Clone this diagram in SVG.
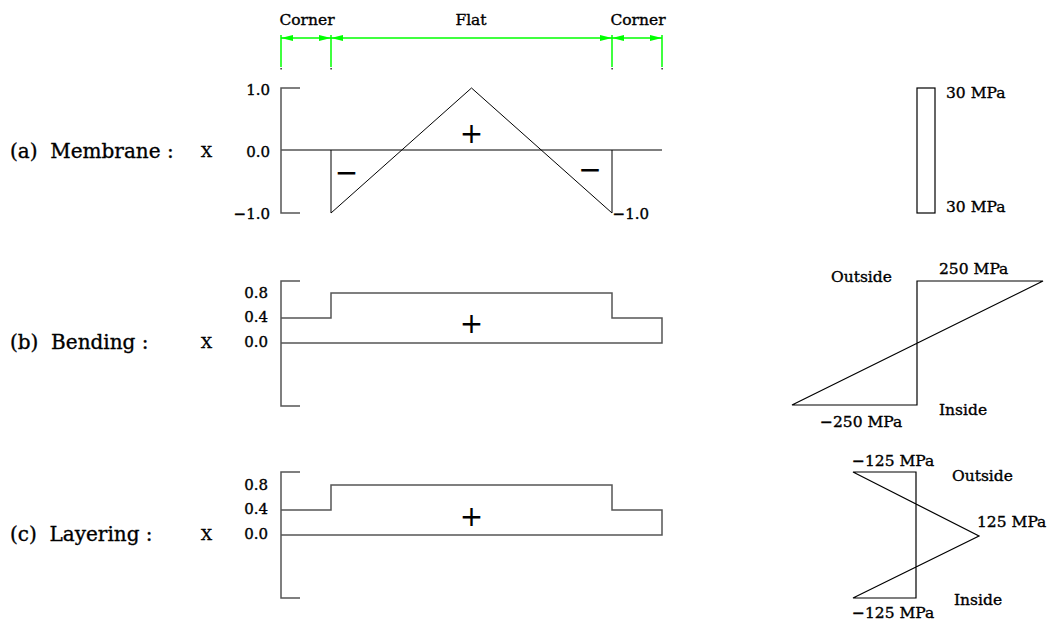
<svg xmlns="http://www.w3.org/2000/svg" width="1048" height="631" viewBox="0 0 1048 631">
<style>
text{font-family:"DejaVu Serif","Liberation Serif",serif;fill:#000;stroke:#000;stroke-width:0.35}
.lab{font-size:20px;white-space:pre}
.tk{font-size:15px;text-anchor:end}
.mpa{font-size:15.5px}
.dim{font-size:15.5px;text-anchor:middle}
.sgn{font-family:"DejaVu Sans",sans-serif;font-size:28px;text-anchor:middle;stroke-width:0}
.ax{fill:none;stroke:#555;stroke-width:1.5}
.th{fill:none;stroke:#000;stroke-width:1}
.rs{fill:none;stroke:#000;stroke-width:1.2}
.g{stroke:#00ff00;stroke-width:1.5;fill:none}
</style>
<defs>
<marker id="ah" viewBox="0 0 12 6" refX="12" refY="3" markerWidth="12" markerHeight="6" markerUnits="userSpaceOnUse" orient="auto-start-reverse">
<path d="M0,0 L12,3 L0,6 Z" fill="#00ff00"/>
</marker>
</defs>
<g id="dimensions">
<line class="g" x1="281" y1="35" x2="281" y2="67"/>
<line class="g" x1="331" y1="35" x2="331" y2="67"/>
<line class="g" x1="612" y1="35" x2="612" y2="67"/>
<line class="g" x1="662" y1="35" x2="662" y2="67"/>
<line class="g" x1="281" y1="38" x2="331" y2="38" marker-start="url(#ah)" marker-end="url(#ah)"/>
<line class="g" x1="331" y1="38" x2="612" y2="38" marker-start="url(#ah)" marker-end="url(#ah)"/>
<line class="g" x1="612" y1="38" x2="662" y2="38" marker-start="url(#ah)" marker-end="url(#ah)"/>
<rect x="280.5" y="68" width="1.2" height="1.5" fill="#000"/>
<rect x="330.5" y="68" width="1.2" height="1.5" fill="#000"/>
<rect x="611.5" y="68" width="1.2" height="1.5" fill="#000"/>
<rect x="661.5" y="68" width="1.2" height="1.5" fill="#000"/>
<text class="dim" x="307" y="25">Corner</text>
<text class="dim" x="471" y="25">Flat</text>
<text class="dim" x="638" y="25">Corner</text>
</g>
<g id="membrane">
<text class="lab" x="10" y="158">(a)  Membrane :</text>
<text class="mpa" x="201" y="157">X</text>
<text class="tk" x="270" y="95">1.0</text>
<text class="tk" x="270" y="157">0.0</text>
<text class="tk" x="270" y="219">−1.0</text>
<path class="ax" d="M300,88 H281 V213 H300 M281,150 H662"/>
<path class="th" d="M331,150 V213 L471.5,88 L612,213 V150"/>
<text class="sgn" x="471.5" y="143">+</text>
<text class="sgn" x="346.5" y="182">−</text>
<text class="sgn" x="590" y="179">−</text>
<text class="tk" x="649" y="219">−1.0</text>
</g>
<g id="membrane-stress">
<rect class="rs" x="917" y="88" width="18" height="125"/>
<text class="mpa" x="946" y="98">30 MPa</text>
<text class="mpa" x="946" y="212">30 MPa</text>
</g>
<g id="bending">
<text class="lab" x="10" y="349">(b)  Bending :</text>
<text class="mpa" x="201" y="348">X</text>
<text class="tk" x="268" y="298">0.8</text>
<text class="tk" x="268" y="322">0.4</text>
<text class="tk" x="268" y="347">0.0</text>
<path class="ax" d="M300,281 H281 V406 H300 M281,318 H331 V293 H612 V318 H662 V343 H281"/>
<text class="sgn" x="471.5" y="333">+</text>
</g>
<g id="bending-stress">
<path class="rs" d="M1043,281 H917 V405 H792 Z"/>
<text class="mpa" x="831" y="282">Outside</text>
<text class="mpa" x="939" y="274">250 MPa</text>
<text class="mpa" x="820" y="427">−250 MPa</text>
<text class="mpa" x="939" y="415">Inside</text>
</g>
<g id="layering">
<text class="lab" x="10" y="541">(c)  Layering :</text>
<text class="mpa" x="201" y="540">X</text>
<text class="tk" x="268" y="490">0.8</text>
<text class="tk" x="268" y="514">0.4</text>
<text class="tk" x="268" y="539">0.0</text>
<path class="ax" d="M300,472 H281 V598 H300 M281,510 H331 V485 H612 V510 H662 V535 H281"/>
<text class="sgn" x="471.5" y="526">+</text>
</g>
<g id="layering-stress">
<path class="rs" d="M853,472 H916 V598 H853 L979,536 Z"/>
<text class="mpa" x="852" y="466">−125 MPa</text>
<text class="mpa" x="952" y="481">Outside</text>
<text class="mpa" x="977" y="527">125 MPa</text>
<text class="mpa" x="954" y="605">Inside</text>
<text class="mpa" x="852" y="618">−125 MPa</text>
</g>
</svg>
